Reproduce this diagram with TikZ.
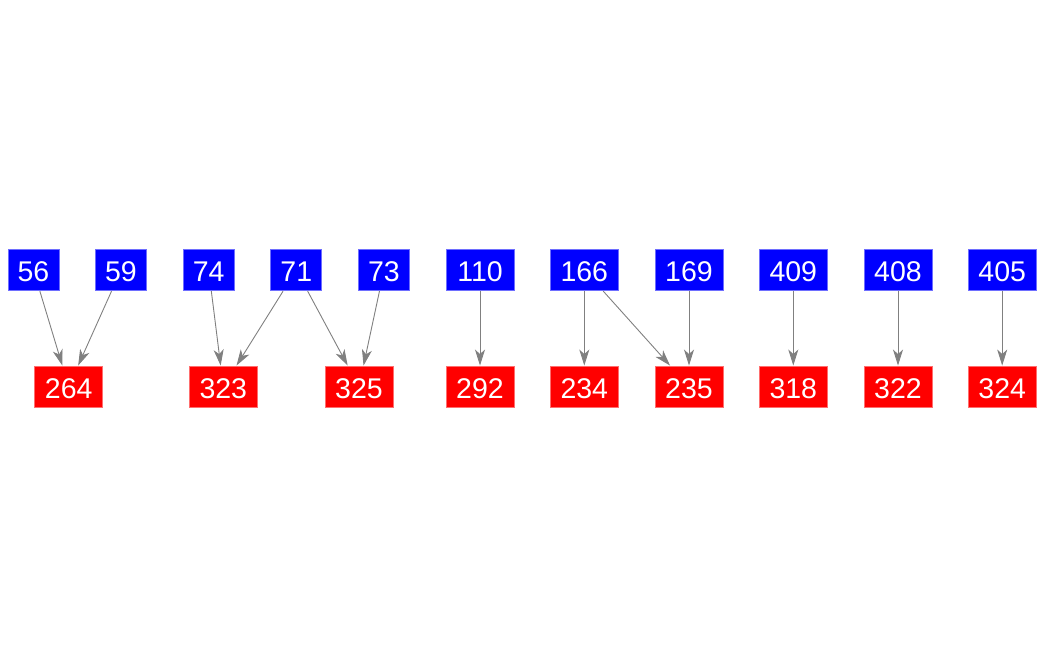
\documentclass[tikz,border=0pt]{standalone}
\usepackage{fontspec}
\setmainfont{Liberation Sans}
\usetikzlibrary{arrows.meta}

\begin{document}
\begin{tikzpicture}[x=1pt, y=-1pt,
    every node/.style={draw, rectangle, inner sep=0pt, minimum height=41.5pt, text height=23pt, text depth=0pt, text=white, font=\fontsize{28.5}{30}\selectfont},
    srcbox/.style={fill={rgb,255:red,0;green,0;blue,255}, draw={rgb,255:red,110;green,110;blue,255}, line width=0.8pt},
    dstbox/.style={fill={rgb,255:red,255;green,0;blue,0}, draw={rgb,255:red,255;green,110;blue,110}, line width=0.8pt, minimum width=68pt},
    edge/.style={->, >={Stealth[length=16pt, width=10pt, inset=4.5pt]}, draw={rgb,255:red,128;green,128;blue,128}, line width=0.9pt}]
            \useasboundingbox (0,0) rectangle (1042,656);
            % Nodos origen
            \node[srcbox, minimum width=51pt] (n56) at (33.5,270) {56};
            \node[srcbox, minimum width=51pt] (n59) at (121,270) {59};
            \node[srcbox, minimum width=51pt] (n74) at (208.7,270) {74};
            \node[srcbox, minimum width=51pt] (n71) at (296.3,270) {71};
            \node[srcbox, minimum width=51pt] (n73) at (384,270) {73};
            \node[srcbox, minimum width=68pt] (n110) at (480,270) {110};
            \node[srcbox, minimum width=68pt] (n166) at (584.3,270) {166};
            \node[srcbox, minimum width=68pt] (n169) at (689,270) {169};
            \node[srcbox, minimum width=68pt] (n409) at (793.3,270) {409};
            \node[srcbox, minimum width=68pt] (n408) at (898,270) {408};
            \node[srcbox, minimum width=68pt] (n405) at (1002.2,270) {405};

            % Nodos destino
            \node[dstbox] (n264) at (68.7,386.7) {264};
            \node[dstbox] (n323) at (223.3,386.7) {323};
            \node[dstbox] (n325) at (359,386.7) {325};
            \node[dstbox] (n292) at (480,386.7) {292};
            \node[dstbox] (n234) at (584.3,386.7) {234};
            \node[dstbox] (n235) at (689,386.7) {235};
            \node[dstbox] (n318) at (793.3,386.7) {318};
            \node[dstbox] (n322) at (898,386.7) {322};
            \node[dstbox] (n324) at (1002.2,386.7) {324};

            % Aristas
            \draw[edge] (n56) -- (n264);
            \draw[edge] (n59) -- (n264);
            \draw[edge] (n74) -- (n323);
            \draw[edge] (n71) -- (n323);
            \draw[edge] (n71) -- (n325);
            \draw[edge] (n73) -- (n325);
            \draw[edge] (n110) -- (n292);
            \draw[edge] (n166) -- (n234);
            \draw[edge] (n166) -- (n235);
            \draw[edge] (n169) -- (n235);
            \draw[edge] (n409) -- (n318);
            \draw[edge] (n408) -- (n322);
            \draw[edge] (n405) -- (n324);
          \end{tikzpicture}
\end{document}
